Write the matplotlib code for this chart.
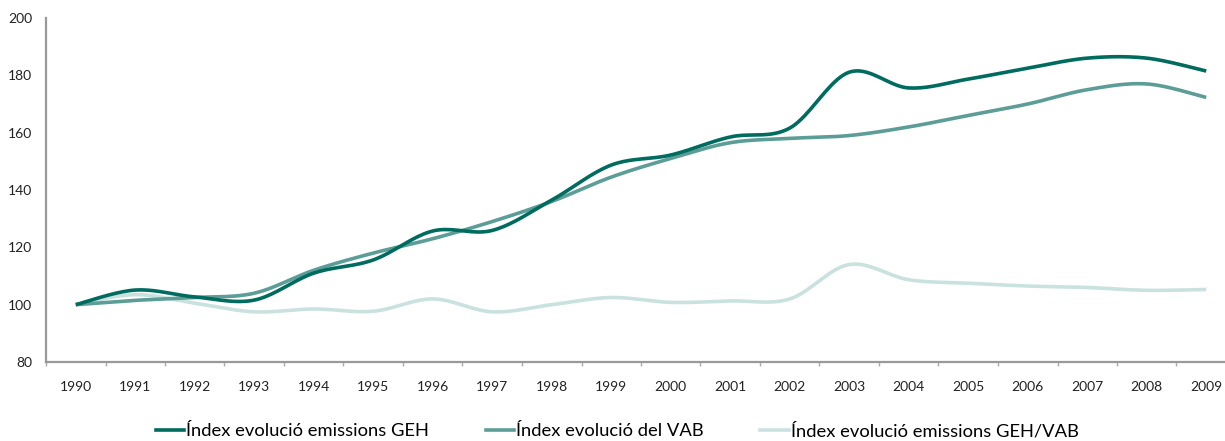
import numpy as np
import matplotlib
matplotlib.use("Agg")
import matplotlib.pyplot as plt
from matplotlib.lines import Line2D

years = [str(y) for y in range(1990, 2010)]
geh = [100, 105.1, 102.7, 101.6, 111, 115.6, 125.7, 125.9, 136.5, 148.7,
       152.2, 158.5, 161.6, 181.1, 175.6, 178.7, 182.5, 186, 186, 181.5]
vab = [100, 101.5, 102.5, 104, 112, 118, 123, 129, 136, 144.5,
       151, 156.5, 158, 159, 162, 166, 170, 175, 177, 172.3]
ratio = [100, 103.5, 100.5, 97.5, 98.5, 97.7, 102, 97.5, 100, 102.5,
         100.8, 101.3, 102, 114, 108.7, 107.5, 106.5, 106, 105, 105.3]

labels = ["Índex evolució emissions GEH", "Índex evolució del VAB",
          "Índex evolució emissions GEH/VAB"]
colors = ["#006B5F", "#5C9E97", "#C9E2DF"]

plt.rcParams['font.family'] = ['Lato', 'DejaVu Sans']


def smooth(y, n=20):
    # Catmull-Rom rendering of the polyline (Excel-like smoothed line)
    y = np.asarray(y, float)
    x = np.arange(len(y), dtype=float)
    P = np.concatenate([[y[0]], y, [y[-1]]])
    X = np.concatenate([[x[0]], x, [x[-1]]])
    xs, ys = [], []
    for i in range(1, len(P) - 2):
        t = np.linspace(0, 1, n, endpoint=False)
        for arr, out in ((X, xs), (P, ys)):
            p0, p1, p2, p3 = arr[i - 1], arr[i], arr[i + 1], arr[i + 2]
            m1 = (p2 - p0) / 2
            m2 = (p3 - p1) / 2
            h00 = 2 * t**3 - 3 * t**2 + 1
            h10 = t**3 - 2 * t**2 + t
            h01 = -2 * t**3 + 3 * t**2
            h11 = t**3 - t**2
            out.extend(h00 * p1 + h10 * m1 + h01 * p2 + h11 * m2)
    xs.append(x[-1]); ys.append(y[-1])
    return np.array(xs), np.array(ys)


fig = plt.figure(figsize=(12.25, 4.41), dpi=100)
ax = fig.add_axes([46 / 1225, 1 - 362 / 441, (1236 - 46) / 1225, (362 - 18) / 441])

for series, c in zip([ratio, vab, geh], colors[::-1]):
    xs, ys = smooth(series)
    ax.plot(xs, ys, color=c, lw=2.6, solid_capstyle='butt')

ax.set_xlim(-0.5, len(years) - 0.5)
ax.set_ylim(80, 200)
ax.set_yticks(range(80, 201, 20))
ax.set_xticks(range(len(years)))
ax.set_xticklabels(years)
ax.set_xticks(np.arange(-0.5, len(years), 1), minor=True)
ax.tick_params(axis='x', which='major', length=0, pad=14, labelsize=10, colors='#222222')
ax.tick_params(axis='x', which='minor', length=3, color='#aaaaaa', width=1)
ax.tick_params(axis='y', length=0, pad=10, labelsize=10, colors='#222222')
for s in ['top', 'right']:
    ax.spines[s].set_visible(False)
for s in ['left', 'bottom']:
    ax.spines[s].set_color('#999999')
    ax.spines[s].set_linewidth(1.6)

handles = [Line2D([0], [0], color=c, lw=2.6) for c in colors]
fig.legend(handles, labels, loc='center', bbox_to_anchor=(617 / 1225, 1 - 431 / 441),
           ncol=3, frameon=False, fontsize=13.2, handlelength=1.55,
           handletextpad=0.1, columnspacing=3.1, borderpad=0)

fig.savefig("out.png", dpi=100)
